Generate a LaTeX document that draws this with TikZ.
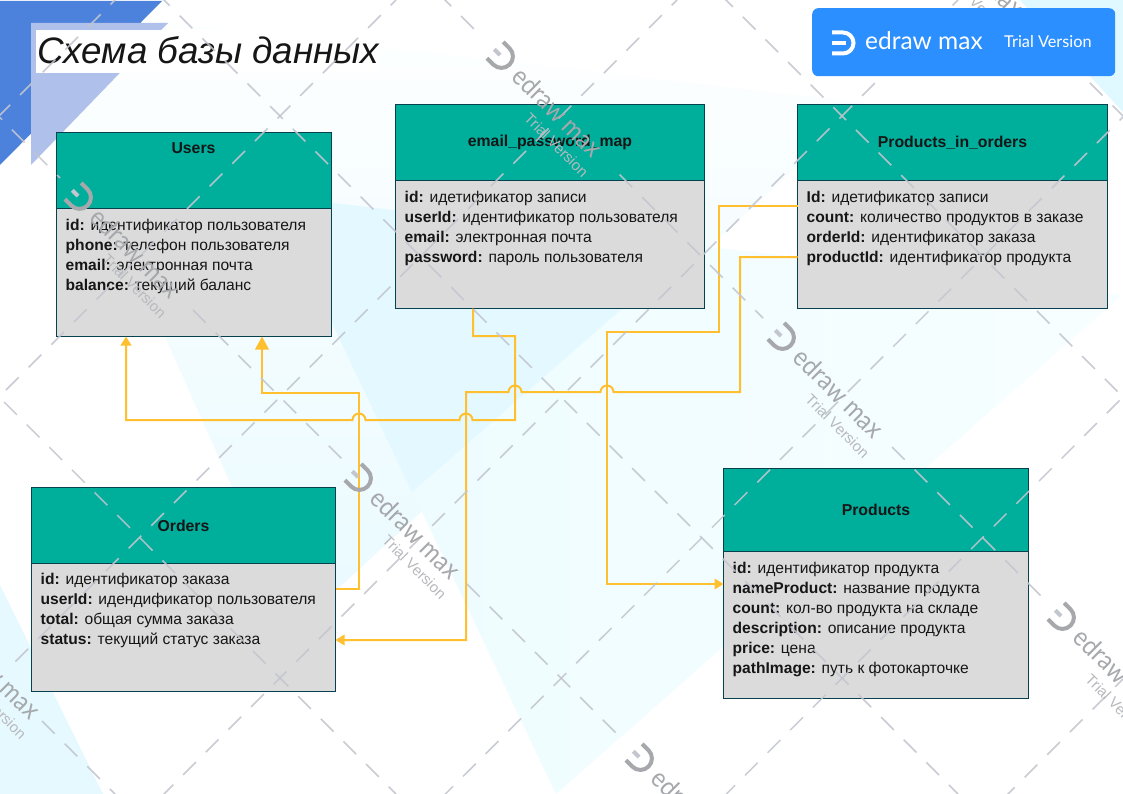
\documentclass[tikz,border=0pt]{standalone}
\usepackage{fontspec}
\setmainfont{Liberation Sans}
\newfontfamily\wmfont{Lato}
\usetikzlibrary{arrows.meta,calc}
\definecolor{teal0}{HTML}{00AE9C}
\definecolor{grey0}{HTML}{DBDBDB}
\definecolor{edge0}{HTML}{07404F}
\definecolor{conn0}{HTML}{FFBF2E}
\definecolor{wmline}{HTML}{C3C6CF}
\definecolor{wmlogo}{HTML}{A6A8AC}
\definecolor{badge}{HTML}{2B8FFF}
\definecolor{ink}{HTML}{161616}
\definecolor{pa}{HTML}{FEFFFF}
\definecolor{pb}{HTML}{E9FAFF}
\definecolor{pc}{HTML}{EDFCFF}
\definecolor{pd}{HTML}{F7FEFF}
\definecolor{pe}{HTML}{E3F9FF}
\definecolor{pf}{HTML}{E6F9FF}
\definecolor{pg}{HTML}{E0F8FF}
\definecolor{blue0}{HTML}{4D82DC}
\definecolor{blue1}{HTML}{AFC0EA}
\tikzset{
  hdrbox/.style={draw=edge0,line width=1pt,fill=teal0,anchor=north west,outer sep=0pt,inner sep=0pt,text=ink,font=\fontsize{15.8}{18}\selectfont\bfseries},
  bodybox/.style={draw=edge0,line width=1pt,fill=grey0,anchor=north west,outer sep=0pt,inner sep=0pt},
  bodytext/.style={anchor=north west,inner sep=0pt,align=left,text=ink,font=\fontsize{15.6}{20}\selectfont},
  conn/.style={draw=conn0,line width=2pt,rounded corners=0pt},
  tipS/.style={-{Triangle[length=9pt,width=10.5pt]}},
  tipL/.style={-{Triangle[length=13pt,width=13.5pt]}},
  wm/.style={draw=wmline,line width=1.5pt,dash pattern=on 18pt off 14pt,opacity=.9},
}
\newcommand{\wmark}[2]{%
  \begin{scope}[shift={(#1,#2)},rotate=-45]
    \draw[wmlogo,line width=4pt] (-7pt,11.5pt) -- (2pt,11.5pt) arc[start angle=90,end angle=-90,radius=11.5pt] -- (-7pt,-11.5pt);
    \draw[wmline,line width=4pt] (-8pt,0pt) -- (0pt,0pt);
    \node[transform shape,xscale=.9,anchor=base west,inner sep=0pt,text=wmlogo,font=\wmfont\fontsize{26.5}{27}\selectfont] at (24pt,-9pt) {edraw max};
    \node[transform shape,anchor=base west,inner sep=0pt,text=wmlogo!80,font=\fontsize{15}{15}\selectfont] at (62pt,-29pt) {Trial Version};
  \end{scope}}
\begin{document}
\begin{tikzpicture}[x=1pt,y=-1pt]
\useasboundingbox (0,0) rectangle (1123,794);
\clip (0,0) rectangle (1123,794);
\fill[white] (0,0) rectangle (1123,794);
% background
\shade[top color=pa,bottom color=pb] (17,5) -- (866,103) -- (295,628) -- cycle;
\shade[left color=pc,right color=pd] (272,196) -- (1122,295) -- (556,794) -- cycle;
\fill[pe] (272,196) -- (695,245) -- (412,492) -- cycle;
\fill[pf] (0,585) -- (103,794) -- (0,794) -- cycle;
\fill[pg] (1020,0) -- (1123,0) -- (1123,112) -- cycle;
\fill[blue0] (0,1) -- (162,1) -- (0,165) -- cycle;
\fill[blue1] (31,23) -- (168,23) -- (31,165) -- cycle;
% title
\node[fill=white,anchor=north west,minimum width=344pt,minimum height=43pt,inner sep=0pt] (titlebg) at (36,30) {};
\node[anchor=base west,inner sep=0pt,text=ink,font=\fontsize{36.8}{37}\selectfont\itshape] (title) at (37,64) {Схема базы данных};
% boxes
\begin{scope}[shift={(0.5,0.5)}]
\node[bodybox,minimum width=275pt,minimum height=128pt] (usersbody) at (56,208) {};
\node[hdrbox,minimum width=275pt,minimum height=76pt] (users) at (56,132) {};
\node[anchor=center,inner sep=0pt,text=ink,font=\fontsize{15.8}{18}\selectfont\bfseries] (userstitle) at (193,148) {Users};
\node[bodytext] (userstext) at (65,218) {\textbf{id:} идентификатор пользователя\\\textbf{phone:} телефон пользователя\\\textbf{email:} электронная почта\\\textbf{balance:} текущий баланс};

\node[bodybox,minimum width=309pt,minimum height=128pt] (emailbody) at (395,180) {};
\node[hdrbox,minimum width=309pt,minimum height=76pt] (email) at (395,104) {email\_password\_map};
\node[bodytext] (emailtext) at (404,190) {\textbf{id:} идетификатор записи\\\textbf{userId:} идентификатор пользователя\\\textbf{email:} электронная почта\\\textbf{password:} пароль пользователя};

\node[bodybox,minimum width=310pt,minimum height=128pt] (pioBody) at (797,180) {};
\node[hdrbox,minimum width=310pt,minimum height=76pt] (pio) at (797,104) {Products\_in\_orders};
\node[bodytext] (piotext) at (806,190) {\textbf{Id:} идетификатор записи\\\textbf{count:} количество продуктов в заказе\\\textbf{orderId:} идентификатор заказа\\\textbf{productId:} идентификатор продукта};

\node[bodybox,minimum width=304pt,minimum height=128pt] (ordersbody) at (31,563) {};
\node[hdrbox,minimum width=304pt,minimum height=76pt] (orders) at (31,487) {Orders};
\node[bodytext] (orderstext) at (40,572) {\textbf{id:} идентификатор заказа\\\textbf{userId:} идендификатор пользователя\\\textbf{total:} общая сумма заказа\\\textbf{status:} текущий статус заказа};

\node[bodybox,minimum width=305pt,minimum height=147pt] (prodbody) at (723,551) {};
\node[hdrbox,minimum width=305pt,minimum height=83pt] (prod) at (723,468) {Products};
\node[bodytext] (prodtext) at (732,561) {\textbf{id:} идентификатор продукта\\\textbf{nameProduct:} название продукта\\\textbf{count:} кол-во продукта на складе\\\textbf{description:} описание продукта\\\textbf{price:} цена\\\textbf{pathImage:} путь к фотокарточке};
\end{scope}
% connectors
\draw[conn,tipS] (emailbody.south -| 473,0) -- (473,336) -- (515,336) -- (515,420) -- (472.5,420) arc[start angle=0,end angle=180,radius=6.5pt] -- (365.5,420) arc[start angle=0,end angle=180,radius=6.5pt] -- (126,420) -- (usersbody.south -| 126,0);
\draw[conn,tipL] (ordersbody.east |- 0,589) -- (359,589) -- (359,393) -- (262,393) -- (usersbody.south -| 262,0);
\draw[conn,tipS] (pioBody.west |- 0,257) -- (740,257) -- (740,392) -- (613.5,392) arc[start angle=0,end angle=180,radius=6.5pt] -- (521.5,392) arc[start angle=0,end angle=180,radius=6.5pt] -- (466,392) -- (466,640) -- (ordersbody.east |- 0,640);
\draw[conn,tipS] (pioBody.west |- 0,206) -- (719,206) -- (719,332) -- (607,332) -- (607,584) -- (prodbody.west |- 0,584);
% watermark lines, down-right
\draw[wm] (-10.6,107) -- (60,178);
\draw[wm] (193,310) -- (342,459);
\draw[wm] (467,584) -- (622,739);
\draw[wm] (438.4,-6.6) -- (482,37);
\draw[wm] (619.5,174.5) -- (763,318);
\draw[wm] (892,447) -- (1043,598);
\draw[wm] (1022,15) -- (1123,116);
\draw[wm] (42,721) -- (115,794);
\draw[wm] (4.1,402) -- (396,794);
\draw[wm] (157,-7) -- (958,794);
\draw[wm] (720.2,-5.8) -- (1123,397);
% watermark lines, up-right
\draw[wm] (-2.6,117.6) -- (115,0);
\draw[wm] (6,390) -- (396,0);
\draw[wm] (15.5,661.5) -- (677,0);
\draw[wm] (160.6,797.4) -- (958,0);
\draw[wm] (440.4,799) -- (1123,117);
\draw[wm] (722.4,798) -- (1123,397);
\draw[wm] (1002,800) -- (1123,679);
% watermark logos
\wmark{78}{196}
\wmark{358}{477}
\wmark{639}{757}
\wmark{500}{55}
\wmark{781}{336}
\wmark{1061}{616}
\wmark{922}{-85}
\wmark{-62}{617}
% badge
\node[fill=badge,rounded corners=6pt,anchor=north west,minimum width=303pt,minimum height=68pt,inner sep=0pt] (badgebox) at (812,8) {};
\draw[white,line width=4pt] (832,32.5) -- (843,32.5) arc[start angle=90,end angle=-90,radius=10.5pt] -- (832,53.5);
\draw[white,line width=4pt] (832,43) -- (846,43);
\node[anchor=base west,inner sep=0pt,text=white,font=\wmfont\fontsize{24.5}{25}\selectfont] (badgename) at (865,50) {edraw max};
\node[anchor=base west,inner sep=0pt,text=white,font=\wmfont\fontsize{16.3}{16}\selectfont] (badgetrial) at (1004,48) {Trial Version};
\end{tikzpicture}
\end{document}
